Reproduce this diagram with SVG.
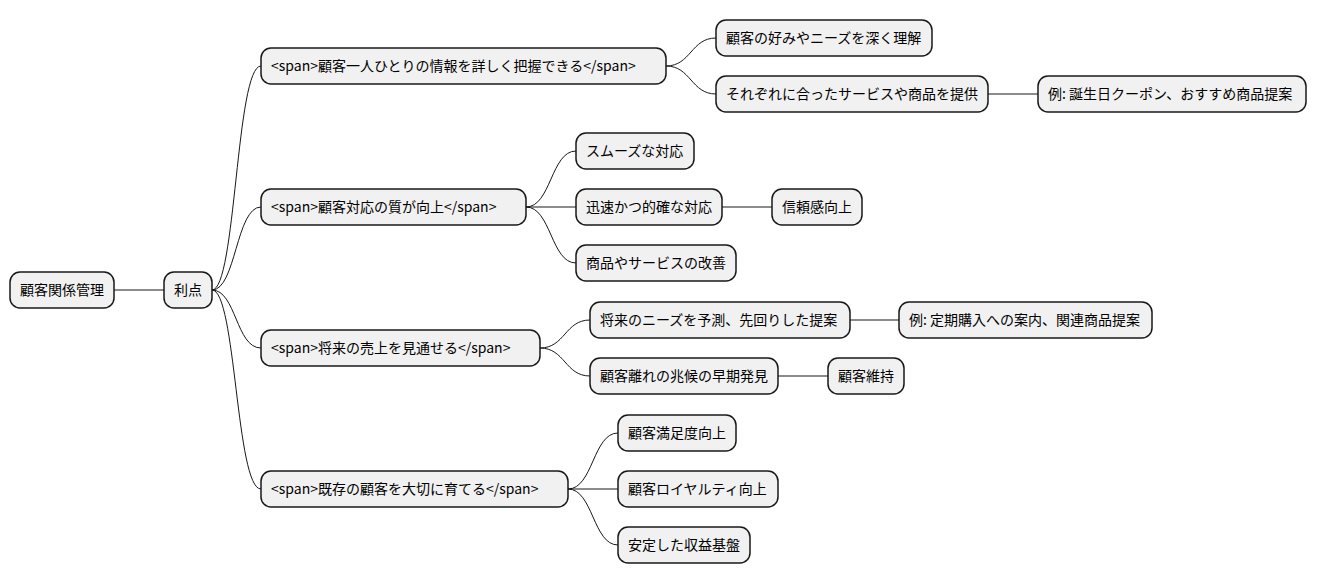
<svg xmlns="http://www.w3.org/2000/svg" width="1317" height="583" viewBox="0 0 1317 583">
<style>
.n rect{fill:#F1F1F1;stroke:#181818;stroke-width:1.5}
.n text{font-family:"Noto Sans CJK JP","Noto Sans",sans-serif;font-size:14px;fill:#000}
#c path{fill:none;stroke:#181818;stroke-width:1}
</style>
<rect width="1317" height="583" fill="#fff"/>
<g id="c">
<path d="M114,290 L164,290"/>
<path d="M212,290 C236,290 236,66 261,66"/>
<path d="M212,290 C236,290 236,207 261,207"/>
<path d="M212,290 C236,290 236,348 261,348"/>
<path d="M212,290 C236,290 236,489 261,489"/>
<path d="M666,66 C691,66 691,38 716,38"/>
<path d="M666,66 C691,66 691,94 716,94"/>
<path d="M988,94 L1038,94"/>
<path d="M526,207 C551,207 551,151 576,151"/>
<path d="M526,207 L576,207"/>
<path d="M722,207 L772,207"/>
<path d="M526,207 C551,207 551,263 576,263"/>
<path d="M540,348 C565,348 565,320 590,320"/>
<path d="M540,348 C565,348 565,376 590,376"/>
<path d="M850,320 L899,320"/>
<path d="M778,376 L828,376"/>
<path d="M568,489 C593,489 593,433 618,433"/>
<path d="M568,489 L618,489"/>
<path d="M568,489 C593,489 593,545 618,545"/>
</g>
<g id="root" class="n"><rect x="10" y="272" width="104" height="36" rx="10"/><text x="20" y="295">顧客関係管理</text></g>
<g id="riten" class="n"><rect x="164" y="272" width="48" height="36" rx="10"/><text x="174" y="295">利点</text></g>
<g id="a" class="n"><rect x="261" y="48" width="405" height="36" rx="10"/><text x="271" y="71">&lt;span&gt;顧客一人ひとりの情報を詳しく把握できる&lt;/span&gt;</text></g>
<g id="a1" class="n"><rect x="716" y="20" width="216" height="36" rx="10"/><text x="726" y="43">顧客の好みやニーズを深く理解</text></g>
<g id="a2" class="n"><rect x="716" y="76" width="272" height="36" rx="10"/><text x="726" y="99">それぞれに合ったサービスや商品を提供</text></g>
<g id="a21" class="n"><rect x="1038" y="76" width="268" height="36" rx="10"/><text x="1048" y="99">例: 誕生日クーポン、おすすめ商品提案</text></g>
<g id="b" class="n"><rect x="261" y="189" width="265" height="36" rx="10"/><text x="271" y="212">&lt;span&gt;顧客対応の質が向上&lt;/span&gt;</text></g>
<g id="b1" class="n"><rect x="576" y="133" width="118" height="36" rx="10"/><text x="586" y="156">スムーズな対応</text></g>
<g id="b2" class="n"><rect x="576" y="189" width="146" height="36" rx="10"/><text x="586" y="212">迅速かつ的確な対応</text></g>
<g id="b21" class="n"><rect x="772" y="189" width="90" height="36" rx="10"/><text x="782" y="212">信頼感向上</text></g>
<g id="b3" class="n"><rect x="576" y="245" width="160" height="36" rx="10"/><text x="586" y="268">商品やサービスの改善</text></g>
<g id="cc" class="n"><rect x="261" y="330" width="279" height="36" rx="10"/><text x="271" y="353">&lt;span&gt;将来の売上を見通せる&lt;/span&gt;</text></g>
<g id="c1" class="n"><rect x="590" y="302" width="260" height="36" rx="10"/><text x="600" y="325">将来のニーズを予測、先回りした提案</text></g>
<g id="c11" class="n"><rect x="899" y="302" width="253" height="36" rx="10"/><text x="909" y="325">例: 定期購入への案内、関連商品提案</text></g>
<g id="c2" class="n"><rect x="590" y="358" width="188" height="36" rx="10"/><text x="600" y="381">顧客離れの兆候の早期発見</text></g>
<g id="c21" class="n"><rect x="828" y="358" width="76" height="36" rx="10"/><text x="838" y="381">顧客維持</text></g>
<g id="d" class="n"><rect x="261" y="471" width="307" height="36" rx="10"/><text x="271" y="494">&lt;span&gt;既存の顧客を大切に育てる&lt;/span&gt;</text></g>
<g id="d1" class="n"><rect x="618" y="415" width="118" height="36" rx="10"/><text x="628" y="438">顧客満足度向上</text></g>
<g id="d2" class="n"><rect x="618" y="471" width="160" height="36" rx="10"/><text x="628" y="494">顧客ロイヤルティ向上</text></g>
<g id="d3" class="n"><rect x="618" y="527" width="132" height="36" rx="10"/><text x="628" y="550">安定した収益基盤</text></g>
</svg>
